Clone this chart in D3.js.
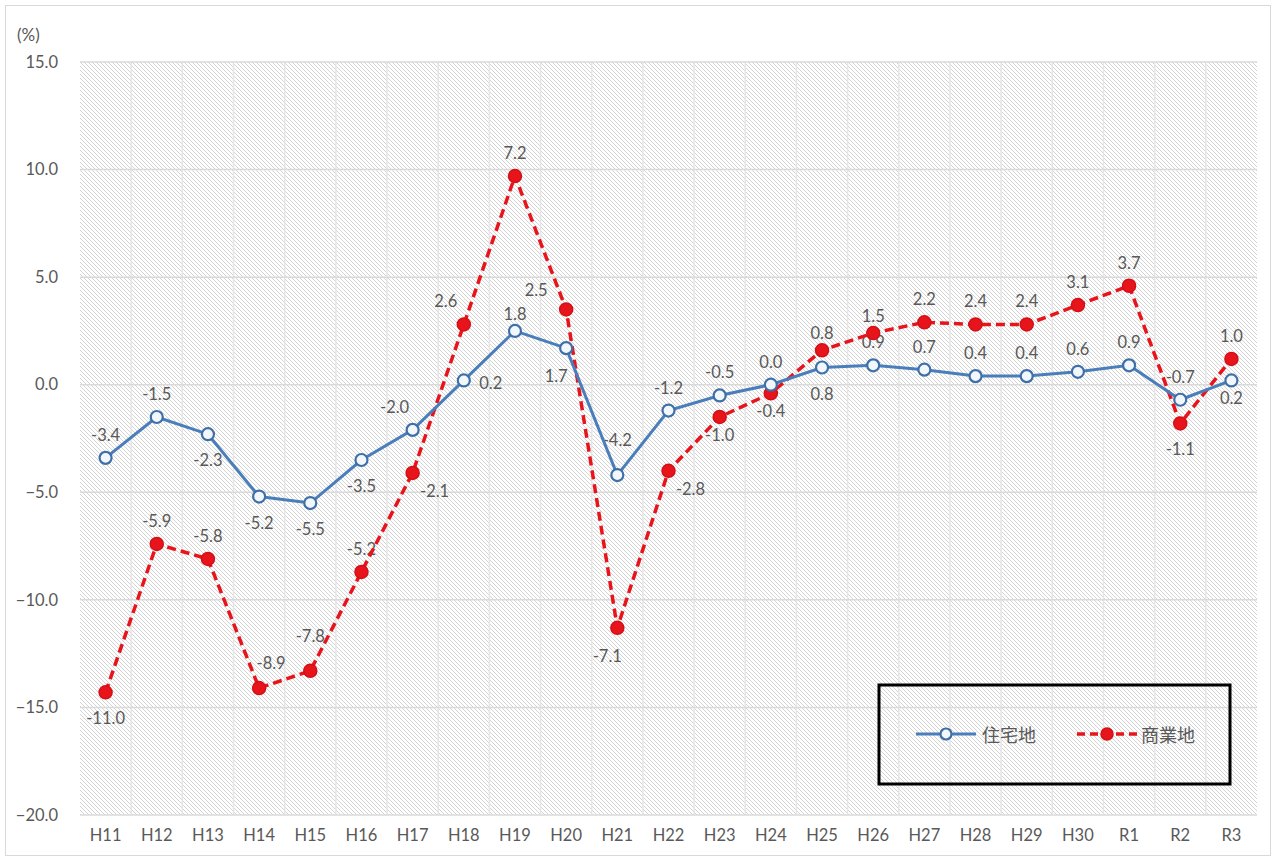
<!DOCTYPE html>
<html>
<head>
<meta charset="utf-8">
<script src="https://cdn.jsdelivr.net/npm/d3@7"></script>
<style>
  body { margin: 0; background: #fff; }
  text { font-family: Lato, "Noto Sans CJK JP", sans-serif; fill: #595959; }
</style>
</head>
<body>
<div id="chart"></div>
<script>
// categories (fiscal years)
const years = ["H11", "H12", "H13", "H14", "H15", "H16", "H17", "H18", "H19", "H20", "H21", "H22",
    "H23", "H24", "H25", "H26", "H27", "H28", "H29", "H30", "R1", "R2", "R3"];

// 住宅地 - plotted values and their data labels
const residential = [-3.4, -1.5, -2.3, -5.2, -5.5, -3.5, -2.1, 0.2, 2.5, 1.7, -4.2, -1.2,
    -0.5, 0.0, 0.8, 0.9, 0.7, 0.4, 0.4, 0.6, 0.9, -0.7, 0.2];
const residentialLabels = ["-3.4", "-1.5", "-2.3", "-5.2", "-5.5", "-3.5", "-2.0", "0.2", "1.8", "1.7", "-4.2", "-1.2",
    "-0.5", "0.0", "0.8", "0.9", "0.7", "0.4", "0.4", "0.6", "0.9", "-0.7", "0.2"];

// 商業地 - plotted values and their data labels
const commercial = [-14.3, -7.4, -8.1, -14.1, -13.3, -8.7, -4.1, 2.8, 9.7, 3.5, -11.3, -4.0,
    -1.5, -0.4, 1.6, 2.4, 2.9, 2.8, 2.8, 3.7, 4.6, -1.8, 1.2];
const commercialLabels = ["-11.0", "-5.9", "-5.8", "-8.9", "-7.8", "-5.2", "-2.1", "2.6", "7.2", "2.5", "-7.1", "-2.8",
    "-1.0", "-0.4", "0.8", "1.5", "2.2", "2.4", "2.4", "3.1", "3.7", "-1.1", "1.0"];

const yTicks = [15, 10, 5, 0, -5, -10, -15, -20];

// where each data label sits relative to its point
const residentialPlace = ["T", "T", "B", "B", "B", "B", "TL", "R", "t", "BL", "TT", "T",
    "T", "T", "B", "T", "T", "T", "T", "T", "T", "T", "b"];
const commercialPlace = ["B", "T", "T", "TR", "TT", "T", "BR", "TL", "T", "LL", "BL", "BR",
    "b", "b", "t", "t", "T", "T", "T", "T", "T", "B", "T"];
const placeOffset = {
    T: [0, -23], t: [0, -17], TT: [0, -35], B: [0, 26], b: [0, 18],
    R: [27, 3], TL: [-18, -23], TR: [12, -25], BL: [-10, 28], BR: [22, 18], LL: [-30, -19]
};

const width = 1276, height = 861;
const margin = { top: 62, right: 19, bottom: 46, left: 80 };
const plotW = width - margin.left - margin.right;
const plotH = height - margin.top - margin.bottom;
const fontSize = 16.5;

const svg = d3.select('#chart').append('svg')
    .attr('width', width)
    .attr('height', height);

// hatch pattern for the plot background
const defs = svg.append('defs');
const pat = defs.append('pattern')
    .attr('id', 'hatch')
    .attr('patternUnits', 'userSpaceOnUse')
    .attr('width', 4).attr('height', 4);
pat.append('rect').attr('width', 4).attr('height', 4).attr('fill', '#ffffff');
pat.append('path')
    .attr('d', 'M-1,-1 L5,5 M-1,3 L1,5 M3,-1 L5,1')
    .attr('stroke', '#d3d3d3')
    .attr('stroke-width', 1);

// outer chart border
svg.append('rect')
    .attr('x', 5.5).attr('y', 5.5)
    .attr('width', width - 11).attr('height', height - 11)
    .attr('fill', 'none')
    .attr('stroke', '#d9d9d9');

const g = svg.append('g').attr('transform', `translate(${margin.left},${margin.top})`);

const x = d3.scaleBand().domain(years).range([0, plotW]);
const y = d3.scaleLinear().domain([-20, 15]).range([plotH, 0]);
const cx = d => x(d) + x.bandwidth() / 2;

g.append('rect')
    .attr('width', plotW).attr('height', plotH)
    .attr('fill', 'url(#hatch)');

// vertical gridlines between categories
g.append('g').selectAll('line')
    .data(years.slice(1))
    .join('line')
    .attr('x1', d => x(d)).attr('x2', d => x(d))
    .attr('y1', 0).attr('y2', plotH)
    .attr('stroke', '#e6e6e6')
    .attr('stroke-width', 1.5);

// horizontal gridlines
g.append('g').selectAll('line')
    .data(yTicks)
    .join('line')
    .attr('x1', 0).attr('x2', plotW)
    .attr('y1', d => y(d)).attr('y2', d => y(d))
    .attr('stroke', '#dadada')
    .attr('stroke-width', 1.5);

// y axis
const yAxis = g.append('g')
    .call(d3.axisLeft(y).tickValues(yTicks).tickFormat(d3.format('.1f')).tickSize(0).tickPadding(22));
yAxis.select('.domain').remove();
yAxis.selectAll('text').attr('font-size', fontSize).attr('fill', '#595959')
    .style('font-family', 'Lato, sans-serif');

// x axis
const xAxis = g.append('g')
    .attr('transform', `translate(0,${plotH})`)
    .call(d3.axisBottom(x).tickSize(0).tickPadding(14));
xAxis.select('.domain').remove();
xAxis.selectAll('text').attr('font-size', fontSize).attr('fill', '#595959')
    .style('font-family', 'Lato, sans-serif');

svg.append('text')
    .attr('x', 17).attr('y', 41)
    .attr('font-size', 17)
    .text('(%)');

// data labels first so the lines sit on top of them
function drawLabels(labels, places, values) {
    g.append('g').selectAll('text')
        .data(years)
        .join('text')
        .attr('x', (d, i) => cx(d) + placeOffset[places[i]][0])
        .attr('y', (d, i) => y(values[i]) + placeOffset[places[i]][1])
        .attr('text-anchor', 'middle')
        .attr('dominant-baseline', 'central')
        .attr('font-size', fontSize)
        .text((d, i) => labels[i]);
}
drawLabels(residentialLabels, residentialPlace, residential);
drawLabels(commercialLabels, commercialPlace, commercial);

const line = d3.line().x((d, i) => cx(years[i])).y(d => y(d));

// 商業地 line
g.append('path')
    .datum(commercial)
    .attr('d', line)
    .attr('fill', 'none')
    .attr('stroke', '#e8141c')
    .attr('stroke-width', 3.5)
    .attr('stroke-dasharray', '9,5');

g.append('g').selectAll('circle')
    .data(commercial)
    .join('circle')
    .attr('cx', (d, i) => cx(years[i]))
    .attr('cy', d => y(d))
    .attr('r', 6.5)
    .attr('fill', '#e8141c')
    .attr('stroke', '#d41016')
    .attr('stroke-width', 1.5);

// 住宅地 line
g.append('path')
    .datum(residential)
    .attr('d', line)
    .attr('fill', 'none')
    .attr('stroke', '#4a7ebb')
    .attr('stroke-width', 3);

g.append('g').selectAll('circle')
    .data(residential)
    .join('circle')
    .attr('cx', (d, i) => cx(years[i]))
    .attr('cy', d => y(d))
    .attr('r', 6)
    .attr('fill', '#f2f7fc')
    .attr('stroke', '#3e6fa8')
    .attr('stroke-width', 2.2);

// legend
const legend = svg.append('g');
legend.append('rect')
    .attr('x', 879).attr('y', 685)
    .attr('width', 351).attr('height', 99)
    .attr('fill', 'none')
    .attr('stroke', '#000')
    .attr('stroke-width', 3);

const ly = 734;
legend.append('line')
    .attr('x1', 916).attr('x2', 976).attr('y1', ly).attr('y2', ly)
    .attr('stroke', '#4a7ebb').attr('stroke-width', 3);
legend.append('circle')
    .attr('cx', 946).attr('cy', ly).attr('r', 5.5)
    .attr('fill', '#f2f7fc').attr('stroke', '#3e6fa8').attr('stroke-width', 2.2);
legend.append('text')
    .attr('x', 982).attr('y', ly).attr('dominant-baseline', 'central')
    .attr('font-size', 18)
    .style('font-family', '"Noto Sans CJK JP", sans-serif')
    .text('住宅地');

legend.append('line')
    .attr('x1', 1077).attr('x2', 1137).attr('y1', ly).attr('y2', ly)
    .attr('stroke', '#e8141c').attr('stroke-width', 3.5)
    .attr('stroke-dasharray', '8,5');
legend.append('circle')
    .attr('cx', 1107).attr('cy', ly).attr('r', 6)
    .attr('fill', '#e8141c').attr('stroke', '#d41016').attr('stroke-width', 1.5);
legend.append('text')
    .attr('x', 1141).attr('y', ly).attr('dominant-baseline', 'central')
    .attr('font-size', 18)
    .style('font-family', '"Noto Sans CJK JP", sans-serif')
    .text('商業地');
</script>
</body>
</html>
